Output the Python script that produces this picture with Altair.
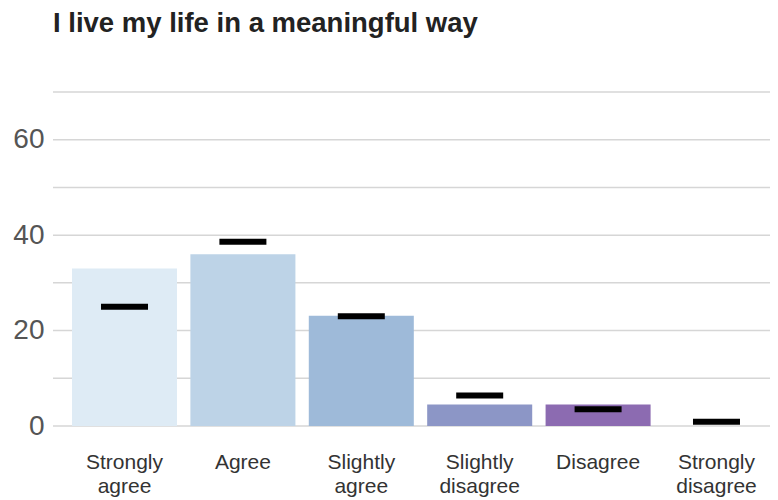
import altair as alt
import pandas as pd

categories = ["Strongly agree", "Agree", "Slightly agree", "Slightly disagree", "Disagree", "Strongly disagree"]
bar_values = [33, 36, 23.1, 4.5, 4.5, 0]
marker_values = [25, 38.6, 23, 6.4, 3.5, 0.9]
bar_colors = ["#deebf5", "#bdd3e7", "#9ebad9", "#8c96c6", "#8c6bb1", "#88419d"]
y_ticks = [0, 10, 20, 30, 40, 50, 60, 70]

df = pd.DataFrame({"category": categories, "value": bar_values, "marker": marker_values})
grid_df = pd.DataFrame({"tick": y_ticks})

FONT = "Liberation Sans"
W = 717

y_scale = alt.Scale(domain=[0, 70], nice=False)

grid = alt.Chart(grid_df).mark_rule(color="#d6d6d6", strokeWidth=1.5).encode(
    y=alt.Y(
        "tick:Q",
        scale=y_scale,
        axis=alt.Axis(
            title=None,
            values=y_ticks,
            labelExpr="datum.value % 20 == 0 ? datum.label : ''",
            labelFontSize=28,
            labelColor="#555555",
            labelFont=FONT,
            labelPadding=9,
            ticks=False,
            domain=False,
            grid=False,
        ),
    ),
    x=alt.value(0),
    x2=alt.value(W + 8),
)

x_enc = alt.X(
    "category:N",
    sort=categories,
    scale=alt.Scale(range=[19, 716], paddingInner=0.113, paddingOuter=0),
    axis=alt.Axis(
        title=None,
        labelAngle=0,
        labelExpr="split(datum.label, ' ')",
        labelFontSize=21,
        labelLineHeight=24,
        labelColor="#333333",
        labelFont=FONT,
        labelPadding=25,
        ticks=False,
        domain=False,
        grid=False,
    ),
)

bars = alt.Chart(df).mark_bar().encode(
    x=x_enc,
    y=alt.Y("value:Q", scale=y_scale),
    color=alt.Color("category:N", sort=categories,
                    scale=alt.Scale(domain=categories, range=bar_colors), legend=None),
)

ticks = alt.Chart(df).mark_tick(color="black", size=47, thickness=6, opacity=1).encode(
    x=alt.X("category:N", sort=categories),
    y=alt.Y("marker:Q", scale=y_scale),
)

chart = alt.layer(grid, bars, ticks).properties(
    width=W,
    height=334,
    title=alt.TitleParams(
        "I live my life in a meaningful way",
        anchor="start",
        frame="group",
        font=FONT,
        fontSize=27.5,
        fontWeight="bold",
        color="#222222",
        offset=54,
    ),
    autosize=alt.AutoSizeParams(type="none"),
    padding={"left": 45, "top": 84, "right": 0, "bottom": 74},
).configure_view(stroke=None)

chart.save("out.html", embed_options={"renderer": "svg", "actions": False})
